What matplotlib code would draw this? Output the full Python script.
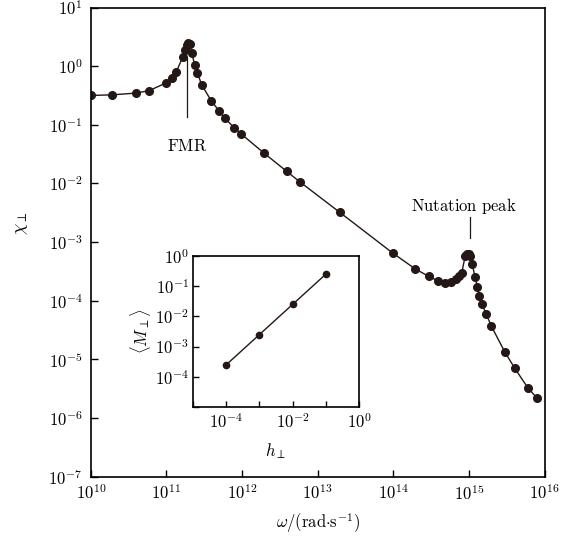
import numpy as np
import matplotlib
matplotlib.use('Agg')
import matplotlib.pyplot as plt
from matplotlib import rcParams
from matplotlib.ticker import LogLocator, FixedLocator, NullLocator

rcParams['mathtext.fontset'] = 'cm'
rcParams['font.family'] = 'cmr10'
rcParams['axes.formatter.use_mathtext'] = True
rcParams['font.size'] = 12

# main curve (log10 values)
log_omega = [10.0, 10.282, 10.592, 10.768, 10.989, 11.069, 11.13, 11.219, 11.245, 11.275,
             11.289, 11.307, 11.334, 11.373, 11.408, 11.466, 11.593, 11.695, 11.771, 11.894,
             11.991, 12.291, 12.592, 12.768, 13.294, 13.991, 14.291, 14.468, 14.587, 14.689,
             14.764, 14.83, 14.874, 14.905, 14.95, 14.976, 14.997, 15.02, 15.042, 15.082,
             15.113, 15.139, 15.17, 15.228, 15.298, 15.474, 15.603, 15.779, 15.898]
log_chi = [-0.50, -0.49, -0.46, -0.42, -0.29, -0.206, -0.094, 0.162, 0.276, 0.361,
           0.40, 0.378, 0.23, 0.02, -0.11, -0.32, -0.593, -0.763, -0.888, -1.048,
           -1.16, -1.484, -1.797, -1.978, -2.496, -3.187, -3.46, -3.586, -3.66, -3.698,
           -3.688, -3.63, -3.574, -3.528, -3.245, -3.2, -3.2, -3.245, -3.37, -3.603,
           -3.773, -3.927, -4.05, -4.227, -4.438, -4.874, -5.147, -5.487, -5.658]

# inset
h_perp = [1e-4, 1e-3, 1e-2, 1e-1]
m_perp = [2.5e-4, 2.5e-3, 2.5e-2, 2.5e-1]

omega = 10 ** np.array(log_omega)
chi = 10 ** np.array(log_chi)

dark = '#231816'

fig = plt.figure(figsize=(5.75, 5.36), dpi=100)
ax = fig.add_axes([0.158, 0.111, 0.789, 0.875])
ax.plot(omega, chi, '-', color=dark, lw=1.0, marker='o', ms=5.5, mfc=dark, mec=dark)
ax.set_xscale('log')
ax.set_yscale('log')
ax.set_xlim(1e10, 1e16)
ax.set_ylim(1e-7, 1e1)
ax.xaxis.set_major_locator(LogLocator(base=10, numticks=20))
ax.yaxis.set_major_locator(LogLocator(base=10, numticks=20))
ax.xaxis.set_minor_locator(NullLocator())
ax.yaxis.set_minor_locator(NullLocator())
ax.tick_params(direction='in', length=5, width=1, labelsize=12)
ax.tick_params(axis='x', pad=5)
ax.tick_params(axis='y', pad=6)
for s in ax.spines.values():
    s.set_linewidth(1.2)
ax.set_xlabel(r'$\omega/(\mathrm{rad{\cdot}s^{-1}})$', fontsize=12, labelpad=6)
ax.set_ylabel(r'$\chi_\perp$', fontsize=13)
ax.yaxis.set_label_coords(-0.135, 0.54)

# annotations
ax.plot([10 ** 11.278, 10 ** 11.278], [10 ** 0.14, 10 ** -0.86], color=dark, lw=0.9)
ax.text(10 ** 11.278, 10 ** -1.36, r'$\mathrm{FMR}$', ha='center', va='center', fontsize=12)
ax.plot([10 ** 15.01, 10 ** 15.01], [10 ** -2.58, 10 ** -2.94], color=dark, lw=0.9)
ax.text(10 ** 14.93, 10 ** -2.39, r'$\mathrm{Nutation\ peak}$', ha='center', va='center', fontsize=12)

# inset
axi = fig.add_axes([0.3357, 0.2407, 0.2887, 0.2817])
axi.plot(h_perp, m_perp, '-', color=dark, lw=1.0, marker='o', ms=4.5, mfc=dark, mec=dark)
axi.set_xscale('log')
axi.set_yscale('log')
axi.set_xlim(1e-5, 1e0)
axi.set_ylim(1e-5, 1e0)
inset_ticks = [1e-5, 1e-4, 1e-3, 1e-2, 1e-1, 1e0]
axi.xaxis.set_major_locator(FixedLocator(inset_ticks))
axi.yaxis.set_major_locator(FixedLocator(inset_ticks))
axi.xaxis.set_minor_locator(NullLocator())
axi.yaxis.set_minor_locator(NullLocator())
xlab = {1e-4: r'$10^{-4}$', 1e-2: r'$10^{-2}$', 1e0: r'$10^{0}$'}
ylab = {1e0: r'$10^{0}$', 1e-1: r'$10^{-1}$', 1e-2: r'$10^{-2}$', 1e-3: r'$10^{-3}$', 1e-4: r'$10^{-4}$'}
axi.set_xticklabels([xlab.get(v, '') for v in inset_ticks])
axi.set_yticklabels([ylab.get(v, '') for v in inset_ticks])
axi.tick_params(direction='in', length=4, width=1, labelsize=12)
axi.tick_params(axis='x', pad=4)
axi.tick_params(axis='y', pad=3)
for s in axi.spines.values():
    s.set_linewidth(1.2)
axi.set_xlabel(r'$h_\perp$', fontsize=12, labelpad=7)
axi.set_ylabel(r'$\langle M_\perp\rangle$', fontsize=12, labelpad=1)

fig.savefig('out.png', dpi=100)
